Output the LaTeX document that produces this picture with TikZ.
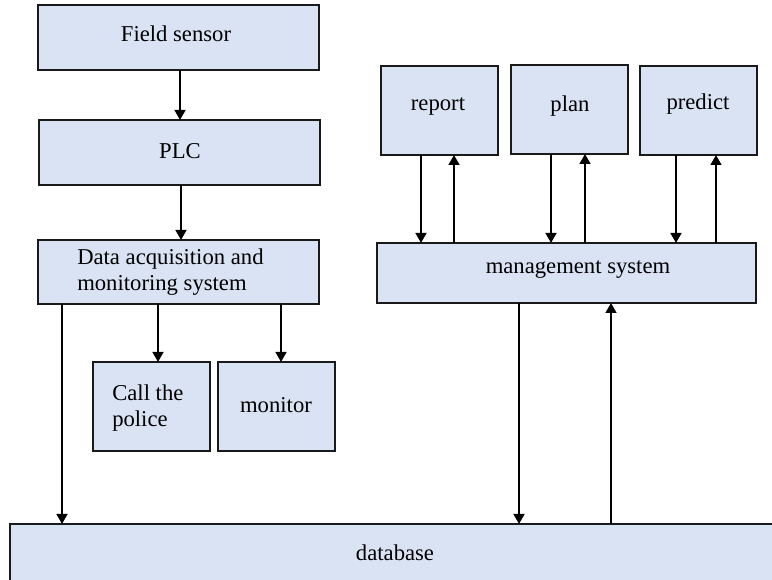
\documentclass[tikz,border=0pt]{standalone}
\usepackage{fontspec}
\setmainfont{Liberation Serif}
\usetikzlibrary{arrows.meta}
\definecolor{boxfill}{HTML}{DAE3F3}
\definecolor{boxline}{HTML}{1A1A1A}
\tikzset{
  box/.style={draw=boxline, fill=boxfill, line width=1.4pt, inner sep=0pt, outer sep=0pt},
  lbl/.style={font=\fontsize{17}{19.5}\selectfont, inner sep=0pt},
  arr/.style={line width=1.8pt, -{Triangle[length=7.5pt,width=8pt]}}
}
\begin{document}
\begin{tikzpicture}[x=0.75pt,y=-0.75pt]
\clip (0,0) rectangle (772,580);
\useasboundingbox (0,0) rectangle (772,580);
% boxes
\node[box, minimum width=210.75pt, minimum height=48.75pt] (fs) at (178.5,37.5) {};
\node[box, minimum width=210.75pt, minimum height=48.75pt] (plc) at (179.5,152.5) {};
\node[box, minimum width=210.75pt, minimum height=48pt] (da) at (178.5,272) {};
\node[box, minimum width=87.75pt, minimum height=66.75pt] (callp) at (151.5,406.5) {};
\node[box, minimum width=87.75pt, minimum height=66.75pt] (mon) at (276.5,406.5) {};
\node[box, minimum width=585pt, minimum height=57pt] (db) at (400,562) {};
\node[box, minimum width=284.25pt, minimum height=45pt] (ms) at (566.5,273) {};
\node[box, minimum width=87.75pt, minimum height=66.75pt] (rep) at (439.5,110.5) {};
\node[box, minimum width=87.75pt, minimum height=66.75pt] (plan) at (569.5,109.5) {};
\node[box, minimum width=87.75pt, minimum height=66.75pt] (pred) at (698.5,110.5) {};
% labels
\node[lbl] (tfs) at (176,34) {Field sensor};
\node[lbl] (tplc) at (180,151) {PLC};
\node[lbl, anchor=west, align=left] (tda) at (77,272) {Data acquisition and\\monitoring system};
\node[lbl, anchor=west, align=left] (tcall) at (112,408) {Call the\\police};
\node[lbl] (tmon) at (276,405) {monitor};
\node[lbl] (tdb) at (395,553) {database};
\node[lbl] (tms) at (578,270) {management system};
\node[lbl] (trep) at (438,107) {report};
\node[lbl] (tplan) at (570,106) {plan};
\node[lbl] (tpred) at (698,104) {predict};
% connectors
\draw[arr] (fs.south -| 180,0) -- (plc.north -| 180,0);
\draw[arr] (plc.south -| 181,0) -- (da.north -| 181,0);
\draw[arr] (da.south -| 158,0) -- (callp.north -| 158,0);
\draw[arr] (da.south -| 281,0) -- (mon.north -| 281,0);
\draw[arr] (da.south -| 62,0) -- (db.north -| 62,0);
\draw[arr] (rep.south -| 421,0) -- (ms.north -| 421,0);
\draw[arr] (ms.north -| 454,0) -- (rep.south -| 454,0);
\draw[arr] (plan.south -| 551,0) -- (ms.north -| 551,0);
\draw[arr] (ms.north -| 585,0) -- (plan.south -| 585,0);
\draw[arr] (pred.south -| 676,0) -- (ms.north -| 676,0);
\draw[arr] (ms.north -| 716,0) -- (pred.south -| 716,0);
\draw[arr] (ms.south -| 519,0) -- (db.north -| 519,0);
\draw[arr] (db.north -| 611,0) -- (ms.south -| 611,0);
\end{tikzpicture}
\end{document}
